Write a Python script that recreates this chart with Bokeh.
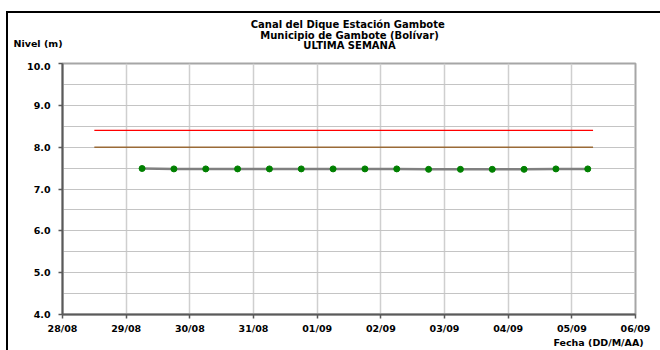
import pandas as pd
from bokeh.plotting import figure
from bokeh.layouts import column
from bokeh.models import (Range1d, FixedTicker, DatetimeTickFormatter, PrintfTickFormatter,
                          LinearAxis)
from bokeh.core.properties import value
from bokeh.embed import file_html
from bokeh.resources import INLINE

# ---- data ----
fechas = pd.to_datetime([
    "2010-08-29 06:00", "2010-08-29 18:00", "2010-08-30 06:00", "2010-08-30 18:00",
    "2010-08-31 06:00", "2010-08-31 18:00", "2010-09-01 06:00", "2010-09-01 18:00",
    "2010-09-02 06:00", "2010-09-02 18:00", "2010-09-03 06:00", "2010-09-03 18:00",
    "2010-09-04 06:00", "2010-09-04 18:00", "2010-09-05 06:00",
])
nivel = [7.49, 7.48, 7.48, 7.48, 7.48, 7.48, 7.48, 7.48,
         7.48, 7.47, 7.47, 7.47, 7.47, 7.48, 7.48]

umbral_fechas = pd.to_datetime(["2010-08-28 12:00", "2010-09-05 08:00"])
umbral_rojo = [8.4, 8.4]
umbral_cafe = [8.0, 8.0]

dias = pd.date_range("2010-08-28", "2010-09-06", freq="D")
y_major = [4, 5, 6, 7, 8, 9, 10]
y_minor = [4.5, 5.5, 6.5, 7.5, 8.5, 9.5]

titulo = ["Canal del Dique  Estación Gambote",
          "Municipio de Gambote (Bolívar)",
          "ULTIMA SEMANA"]
eje_y = "Nivel (m)"
eje_x = "Fecha (DD/M/AA)"

FONT = "DejaVu Sans"
W = 652
FRAME_L, FRAME_R = 62, 635   # page pixels of the plot frame (for the text strips)


def style_text_axis(ax):
    ax.axis_line_color = None
    ax.major_tick_line_color = None
    ax.minor_tick_line_color = None
    ax.major_tick_in = 0
    ax.major_tick_out = 0
    ax.major_label_text_font = FONT
    ax.major_label_text_font_style = "bold"
    ax.major_label_text_font_size = "9.5px"
    ax.major_label_text_color = "black"


# ---- header strip: title (text glyphs) + y-axis name (as an axis label) ----
top = figure(width=W, height=49, output_backend="svg", toolbar_location=None,
             x_range=Range1d(FRAME_L, FRAME_R), y_range=Range1d(49, 0),
             min_border=0, x_axis_location=None, y_axis_location="left")
top.grid.visible = False
top.outline_line_color = None
top.background_fill_color = "white"
top.border_fill_color = "white"
top.yaxis.ticker = FixedTicker(ticks=[30], minor_ticks=[])
top.yaxis.major_label_overrides = {30: eje_y}
style_text_axis(top.yaxis[0])
top.yaxis.major_label_standoff = 0
top.text(x=[349, 349, 349], y=[11, 21.5, 32], text=titulo,
         text_align="center", text_baseline="middle",
         text_font=value(FONT), text_font_style="bold", text_font_size="10px",
         text_color="black")

# ---- main chart ----
p = figure(width=W, height=288, output_backend="svg", toolbar_location=None,
           x_axis_type="datetime",
           x_range=Range1d(dias[0], dias[-1]), y_range=Range1d(4, 10),
           min_border_left=54, min_border_right=25, min_border_top=1, min_border_bottom=35)

p.background_fill_color = "white"
p.border_fill_color = "white"
p.outline_line_color = "#a6a6a6"
p.outline_line_width = 2

day_ticks = [d.value / 1e6 for d in dias]
p.xgrid.ticker = FixedTicker(ticks=day_ticks)
p.xgrid.grid_line_color = "#cfcfcf"
p.xgrid.grid_line_width = 1.5
p.ygrid.ticker = FixedTicker(ticks=y_major, minor_ticks=y_minor)
p.ygrid.grid_line_color = "#c4c4c4"
p.ygrid.grid_line_width = 1
p.ygrid.minor_grid_line_color = "#c4c4c4"
p.ygrid.minor_grid_line_width = 1

p.xaxis.ticker = FixedTicker(ticks=day_ticks)
p.xaxis.formatter = DatetimeTickFormatter(days="%d/%m", months="%d/%m", hours="%d/%m",
                                          years="%d/%m")
p.yaxis.ticker = FixedTicker(ticks=y_major, minor_ticks=[])
p.yaxis.formatter = PrintfTickFormatter(format="%.1f")

for ax in (p.xaxis[0], p.yaxis[0]):
    ax.axis_line_color = "#5a5a5a"
    ax.axis_line_width = 2
    ax.major_tick_line_color = "#5a5a5a"
    ax.major_tick_line_width = 1.5
    ax.major_tick_in = 0
    ax.major_tick_out = 4
    ax.minor_tick_line_color = None
    ax.major_label_text_font = FONT
    ax.major_label_text_font_style = "bold"
    ax.major_label_text_font_size = "9.5px"
    ax.major_label_text_color = "black"
p.yaxis.major_label_standoff = 8
p.xaxis.major_label_standoff = 4

# x-axis name, right-aligned under the dates, as a second (label-only) axis
p.extra_x_ranges = {"pix": Range1d(FRAME_L, FRAME_R)}
ax2 = LinearAxis(x_range_name="pix", ticker=FixedTicker(ticks=[598], minor_ticks=[]),
                 major_label_overrides={598: eje_x})
style_text_axis(ax2)
ax2.major_label_standoff = 0
p.add_layout(ax2, "below")

p.line(umbral_fechas, umbral_rojo, line_color="#ff0000", line_width=1.3)
p.line(umbral_fechas, umbral_cafe, line_color="#9a6a36", line_width=1.5)

p.line(fechas, nivel, line_color="#808080", line_width=2.5)
p.scatter(fechas, nivel, size=6, fill_color="#008000", line_color="#008000")

layout = column(top, p, spacing=0,
                styles={"margin-left": "6px", "margin-top": "11px",
                        "border-left": "2px solid black", "border-top": "2px solid black"})

open("out.html", "w").write(file_html(layout, INLINE))
